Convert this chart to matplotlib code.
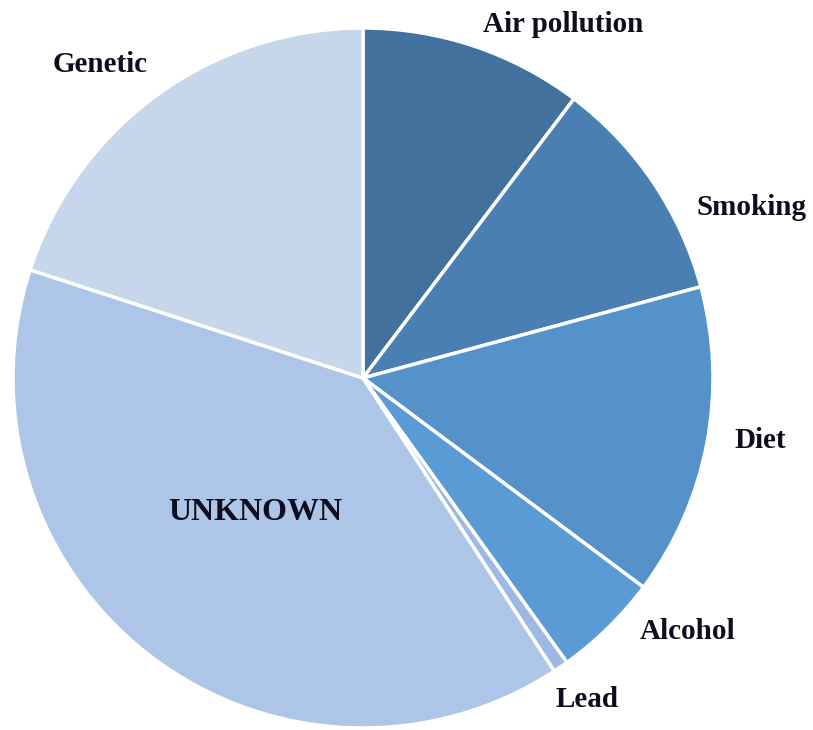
import matplotlib
matplotlib.use("Agg")
import matplotlib.pyplot as plt

# Causas, en orden horario desde las 12
causas = ["Air pollution", "Smoking", "Diet", "Alcohol", "Lead", "UNKNOWN", "Genetic"]
porcentajes = [10.3, 10.5, 14.4, 4.9, 0.7, 39.2, 20.0]
colores = ["#41719C", "#4A7FB4", "#5592CA", "#5B9BD5", "#9DB9E3", "#ADC6E7", "#C6D7EC"]

# posicion de las etiquetas (radio unitario) y tamanio de letra
pos_etiquetas = [(0.571, 1.01), (1.111, 0.488), (1.134, -0.18), (0.926, -0.724),
                 (0.64, -0.918), (-0.309, -0.383), (-0.751, 0.896)]
tam_letra = [21, 21, 21, 21, 21, 23, 21]

W, H = 813, 730
cx, cy, r = 363, 378, 350

fig = plt.figure(figsize=(W / 100, H / 100), dpi=100)
ax = fig.add_axes([(cx - r) / W, (H - cy - r) / H, 2 * r / W, 2 * r / H])

ax.pie(porcentajes, colors=colores, startangle=90, counterclock=False,
       wedgeprops=dict(edgecolor="white", linewidth=2.5))
ax.set_xlim(-1, 1)
ax.set_ylim(-1, 1)
ax.set_aspect("equal")
ax.axis("off")

for texto, (x, y), t in zip(causas, pos_etiquetas, tam_letra):
    ax.text(x, y, texto, ha="center", va="center", fontsize=t,
            fontweight="bold", family="Liberation Serif", color="#0D0D1F",
            clip_on=False)

fig.savefig("out.png", dpi=100)
